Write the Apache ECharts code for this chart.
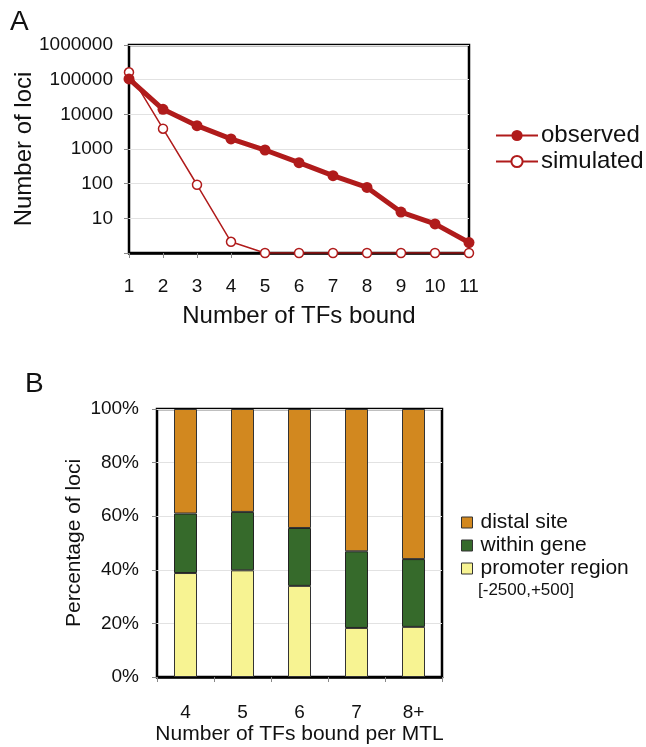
<!DOCTYPE html>
<html>
<head>
<meta charset="utf-8">
<script src="https://cdn.jsdelivr.net/npm/echarts@6/dist/echarts.min.js"></script>
<style>
html,body{margin:0;padding:0;background:#fff;}
#chart{width:646px;height:747px;}
</style>
</head>
<body>
<div id="chart"></div>
<script>
// Panel A data
const tfCounts = ['1','2','3','4','5','6','7','8','9','10','11'];
const observed = [105000, 14000, 4700, 1950, 935, 403, 170, 78, 15.2, 6.9, 2.0];
const simulated = [163000, 3850, 93, 2.1, 1, 1, 1, 1, 1, 1, 1];
const logTicks = [1, 10, 100, 1000, 10000, 100000, 1000000];

// Panel B data
const mtlCategories = ['4', '5', '6', '7', '8+'];
const promoterRegion = [38.8, 39.8, 34.0, 18.3, 18.7];
const withinGene = [22.2, 21.8, 21.6, 28.6, 25.3];
const distalSite = [39.0, 38.4, 44.4, 53.1, 56.0];
const percentTicks = [0, 20, 40, 60, 80, 100];

const FONT = 'Liberation Sans, Arial, sans-serif';
const RED = '#b01b1b';
const INK = '#111';

const chart = echarts.init(document.getElementById('chart'), null, {renderer: 'canvas'});

const option = {
  backgroundColor: '#fff',
  animation: false,
  textStyle: {fontFamily: FONT, color: INK},
  graphic: [
    {type: 'text', left: 10, top: 8, style: {text: 'A', font: '28px ' + FONT, fill: INK}},
    {type: 'text', left: 25, top: 370, style: {text: 'B', font: '28px ' + FONT, fill: INK}},
    {type: 'text', left: 478, top: 582, style: {text: '[-2500,+500]', font: '17px ' + FONT, fill: INK}}
  ],
  grid: [
    {left: 129, top: 45, right: 177, bottom: 494, show: true, borderColor: '#000', borderWidth: 2.5, backgroundColor: 'transparent', containLabel: false, outerBoundsMode: 'none'},
    {left: 157, top: 409, right: 204, bottom: 70, show: true, borderColor: '#000', borderWidth: 2.5, backgroundColor: 'transparent', containLabel: false, outerBoundsMode: 'none'}
  ],
  legend: [
    {
      data: ['observed', 'simulated'],
      orient: 'vertical',
      left: 490, top: 118,
      itemWidth: 42, itemHeight: 14, itemGap: 1,
      textStyle: {fontFamily: FONT, fontSize: 24, color: INK, lineHeight: 25, padding: [0, 0, 0, -2]}
    },
    {
      data: ['distal site', 'within gene', 'promoter region'],
      orient: 'vertical',
      left: 456, top: 506,
      icon: 'rect',
      itemWidth: 11, itemHeight: 11, itemGap: 0,
      align: 'left',
      textStyle: {fontFamily: FONT, fontSize: 21, color: INK, lineHeight: 23, padding: [0, 0, 0, 3]},
      itemStyle: {borderColor: '#333', borderWidth: 1}
    }
  ],
  xAxis: [
    {
      gridIndex: 0, type: 'category', data: tfCounts, boundaryGap: false,
      name: 'Number of TFs bound', nameLocation: 'middle', nameGap: 51, nameMoveOverlap: false,
      nameTextStyle: {fontFamily: FONT, fontSize: 24, color: INK},
      axisLine: {lineStyle: {color: '#000', width: 2.5}},
      axisTick: {show: true, length: 5, lineStyle: {color: '#888'}, alignWithLabel: true},
      axisLabel: {fontFamily: FONT, fontSize: 19, color: INK, margin: 24},
      splitLine: {show: false}
    },
    {
      gridIndex: 1, type: 'category', data: mtlCategories, boundaryGap: true,
      name: 'Number of TFs bound per MTL', nameLocation: 'middle', nameGap: 47, nameMoveOverlap: false,
      nameTextStyle: {fontFamily: FONT, fontSize: 21, color: INK},
      axisLine: {lineStyle: {color: '#000', width: 2.5}},
      axisTick: {show: true, length: 5, lineStyle: {color: '#888'}},
      axisLabel: {fontFamily: FONT, fontSize: 19, color: INK, margin: 26},
      splitLine: {show: false}
    }
  ],
  yAxis: [
    {
      gridIndex: 0, type: 'log', logBase: 10, min: logTicks[0], max: logTicks[logTicks.length - 1],
      name: 'Number of loci', nameLocation: 'middle', nameGap: 93, nameMoveOverlap: false,
      nameTextStyle: {fontFamily: FONT, fontSize: 24, color: INK},
      axisLine: {lineStyle: {color: '#000', width: 2.5}},
      axisTick: {show: true, length: 5, lineStyle: {color: '#888'}},
      axisLabel: {
        fontFamily: FONT, fontSize: 19, color: INK, margin: 16,
        formatter: function (v) { return v === 1 ? '' : String(Math.round(v)); }
      },
      splitLine: {show: true, lineStyle: {color: '#e2e2e2', width: 1}}
    },
    {
      gridIndex: 1, type: 'value', min: percentTicks[0], max: percentTicks[percentTicks.length - 1], interval: 20,
      name: 'Percentage of loci', nameLocation: 'middle', nameGap: 72, nameMoveOverlap: false,
      nameTextStyle: {fontFamily: FONT, fontSize: 21, color: INK},
      axisLine: {lineStyle: {color: '#000', width: 2.5}},
      axisTick: {show: true, length: 5, lineStyle: {color: '#888'}},
      axisLabel: {fontFamily: FONT, fontSize: 19, color: INK, margin: 18, formatter: '{value}%'},
      splitLine: {show: true, lineStyle: {color: '#e2e2e2', width: 1}}
    }
  ],
  series: [
    {
      name: 'simulated', type: 'line', xAxisIndex: 0, yAxisIndex: 0, data: simulated,
      symbol: 'circle', symbolSize: 9, showAllSymbol: true,
      lineStyle: {color: RED, width: 1.5},
      itemStyle: {color: '#fff', borderColor: RED, borderWidth: 1.5},
      z: 2
    },
    {
      name: 'observed', type: 'line', xAxisIndex: 0, yAxisIndex: 0, data: observed,
      symbol: 'circle', symbolSize: 11, showAllSymbol: true,
      lineStyle: {color: RED, width: 5},
      itemStyle: {color: RED, borderColor: RED, borderWidth: 0},
      z: 3
    },
    {
      name: 'promoter region', type: 'bar', stack: 'loci', xAxisIndex: 1, yAxisIndex: 1,
      data: promoterRegion, barWidth: 23,
      itemStyle: {color: '#f7f392', borderColor: '#333', borderWidth: 1}
    },
    {
      name: 'within gene', type: 'bar', stack: 'loci', xAxisIndex: 1, yAxisIndex: 1,
      data: withinGene, barWidth: 23,
      itemStyle: {color: '#366a2b', borderColor: '#222', borderWidth: 1}
    },
    {
      name: 'distal site', type: 'bar', stack: 'loci', xAxisIndex: 1, yAxisIndex: 1,
      data: distalSite, barWidth: 23,
      itemStyle: {color: '#d2881f', borderColor: '#333', borderWidth: 1}
    }
  ]
};
chart.setOption(option);
</script>
</body>
</html>
